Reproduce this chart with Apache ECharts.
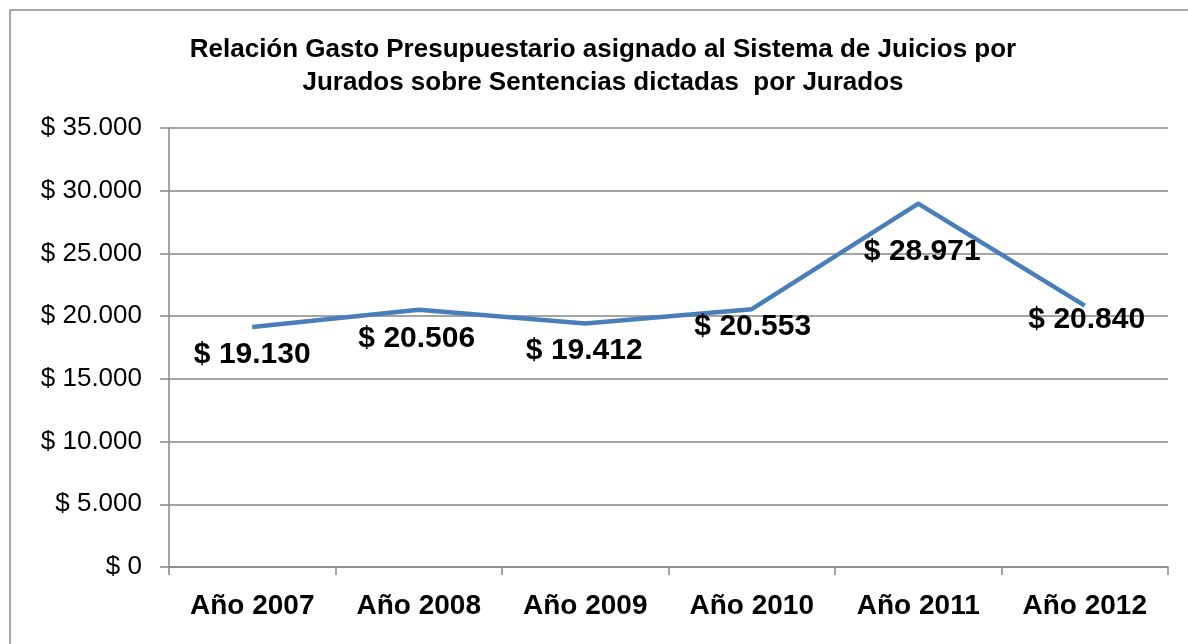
<!DOCTYPE html>
<html>
<head>
    <meta charset="utf-8">
    <title>ECharts</title>
    <script src="https://cdn.jsdelivr.net/npm/echarts@6/dist/echarts.min.js"></script>
    <style>
        html, body { margin: 0; padding: 0; background: #fff; }
        #main { width: 1188px; height: 644px; }
    </style>
</head>
<body>
<div id="main"></div>
<script type="text/javascript">
    // datos
    var years = ['Año 2007', 'Año 2008', 'Año 2009', 'Año 2010', 'Año 2011', 'Año 2012'];
    var values = [19130, 20506, 19412, 20553, 28971, 20840];
    // desplazamiento de cada etiqueta respecto del punto (como en la planilla)
    var labelOffsets = [[0, 28], [-2, 29], [-1, 27], [1, 18], [4, 48], [2, 14]];

    function pesos(v) {
        // $ 19.130 con punto de miles
        return '$ ' + String(v).replace(/\B(?=(\d{3})+(?!\d))/g, '.');
    }

    var myChart = echarts.init(document.getElementById('main'));

    var seriesData = values.map(function (v, i) {
        return {
            value: v,
            label: { offset: labelOffsets[i] }
        };
    });

    var option = {
        animation: false,
        graphic: [
            {
                type: 'rect',
                shape: { x: 10, y: 10, width: 1300, height: 700 },
                style: { fill: 'none', stroke: '#8c8c8c', lineWidth: 1.5 }
            },
            {
                type: 'text',
                x: 603, y: 33,
                style: {
                    text: 'Relación Gasto Presupuestario asignado al Sistema de Juicios por\nJurados sobre Sentencias dictadas  por Jurados',
                    align: 'center',
                    lineHeight: 33,
                    font: 'bold 26px "Liberation Sans", Arial, sans-serif',
                    fill: '#000'
                }
            }
        ],
        grid: { left: 169, right: 20, top: 128, bottom: 77, containLabel: false },
        xAxis: {
            type: 'category',
            data: years,
            boundaryGap: true,
            axisLine: { lineStyle: { color: '#868686', width: 1.5 } },
            axisTick: { show: true, length: 8, lineStyle: { color: '#868686', width: 1.5 } },
            axisLabel: {
                margin: 25,
                color: '#000',
                fontFamily: '"Liberation Sans", Arial, sans-serif',
                fontWeight: 'bold',
                fontSize: 28
            }
        },
        yAxis: {
            type: 'value',
            min: 0, max: 35000, interval: 5000,
            axisLine: { show: true, lineStyle: { color: '#868686', width: 1.5 } },
            axisTick: { show: true, length: 9, lineStyle: { color: '#868686', width: 1.5 } },
            splitLine: { show: true, lineStyle: { color: '#868686', width: 1.5 } },
            axisLabel: {
                margin: 27,
                color: '#000',
                fontFamily: '"Liberation Sans", Arial, sans-serif',
                fontSize: 26,
                formatter: function (v) { return pesos(v); }
            }
        },
        series: [{
            type: 'line',
            data: seriesData,
            symbol: 'circle',
            symbolSize: 0,
            showSymbol: true,
            lineStyle: { color: '#4A7EBB', width: 4.5 },
            itemStyle: { color: '#4A7EBB' },
            label: {
                show: true,
                position: 'inside',
                color: '#000',
                fontFamily: '"Liberation Sans", Arial, sans-serif',
                fontWeight: 'bold',
                fontSize: 30,
                formatter: function (p) { return pesos(p.value); }
            }
        }]
    };

    myChart.setOption(option);
</script>
</body>
</html>
